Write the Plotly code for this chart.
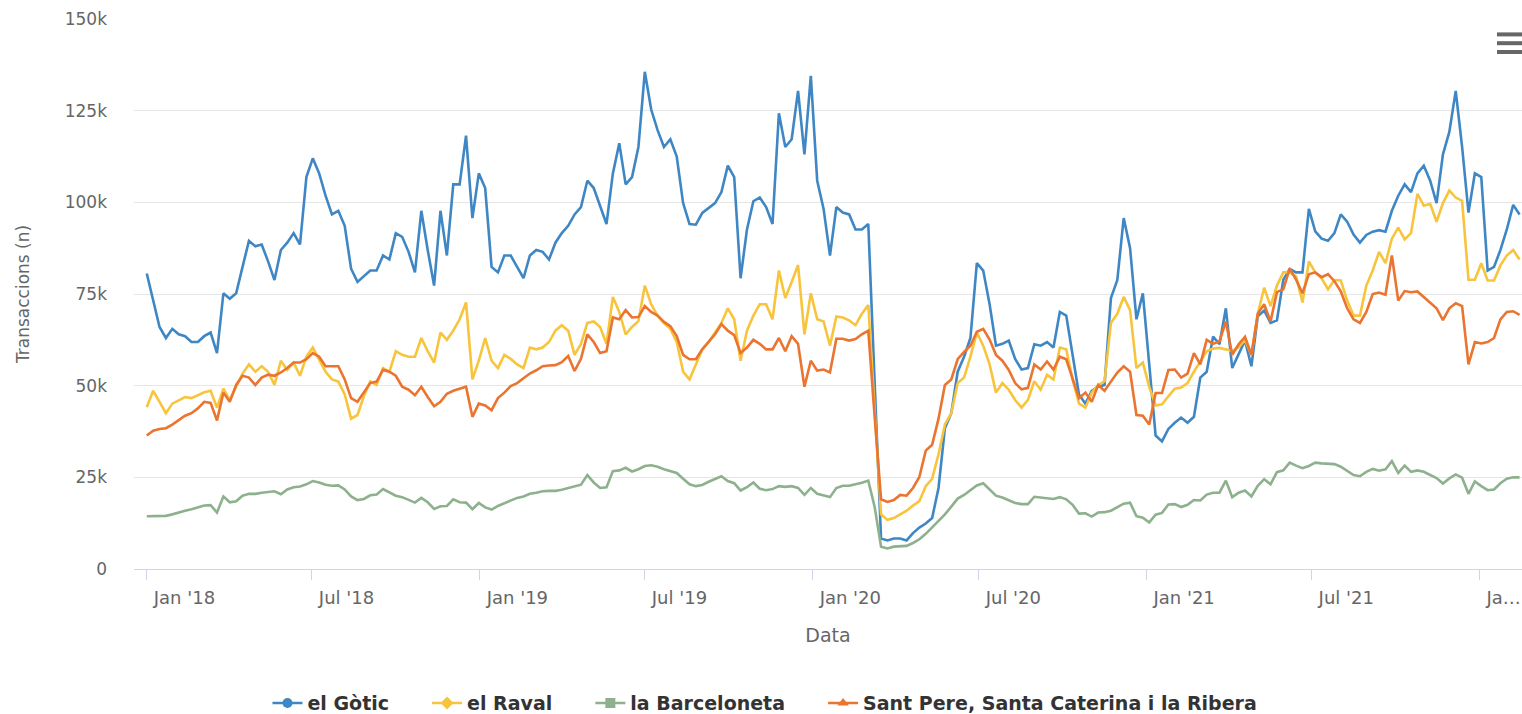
import plotly.graph_objects as go
import pandas as pd

# weekly card transactions per barri (thousands)
weeks = pd.date_range("2018-01-01", periods=216, freq="7D")

gotic = [
    80.6, 73.2, 66.0, 63.0, 65.5, 64.0, 63.5, 61.9, 61.9, 63.5, 64.5, 58.9,
    75.2, 73.7, 75.2, 82.4, 89.5, 88.0, 88.5, 83.9, 78.8, 87.0, 89.0, 91.6,
    88.5, 106.9, 112.0, 107.9, 101.8, 96.7, 97.7, 93.6, 81.9, 78.3, 79.8, 81.4,
    81.4, 85.5, 84.4, 91.6, 90.6, 86.5, 80.9, 97.7, 87.0, 77.3, 97.7, 85.5,
    104.9, 104.9, 118.2, 95.7, 107.9, 103.9, 82.4, 80.9, 85.5, 85.5, 82.4, 79.3,
    85.5, 87.0, 86.5, 84.4, 89.0, 91.6, 93.6, 96.7, 98.7, 105.9, 103.9, 98.7,
    94.1, 107.9, 116.1, 104.9, 106.9, 115.1, 135.6, 125.3, 119.7, 115.1, 117.2, 112.5,
    99.8, 94.1, 93.9, 97.1, 98.4, 99.8, 102.8, 110.0, 106.9, 79.3, 92.6, 100.3,
    101.3, 98.7, 94.1, 124.3, 115.1, 117.2, 130.4, 113.1, 134.5, 105.9, 98.2, 85.5,
    98.7, 97.2, 96.7, 92.6, 92.6, 94.1, 50.7, 8.3, 7.8, 8.3, 8.3, 7.8,
    9.8, 11.3, 12.4, 13.9, 22.1, 38.4, 42.5, 53.8, 57.9, 63.0, 83.4, 81.4,
    72.2, 60.9, 61.4, 62.3, 57.3, 54.4, 54.8, 61.3, 60.9, 61.9, 60.4, 70.1,
    69.1, 57.9, 47.6, 45.1, 48.6, 49.7, 50.2, 73.9, 78.8, 95.7, 87.5, 68.1,
    75.2, 55.8, 36.4, 34.8, 38.2, 39.9, 41.3, 39.9, 41.5, 52.2, 53.8, 63.4,
    61.3, 71.1, 54.8, 58.6, 62.3, 55.3, 68.9, 70.5, 67.1, 67.8, 78.9, 81.8,
    80.9, 80.9, 98.2, 92.1, 90.1, 89.5, 91.6, 96.7, 94.7, 91.2, 89.0, 91.1,
    92.0, 92.4, 92.0, 97.7, 101.8, 104.9, 102.8, 107.9, 110.0, 105.9, 99.8, 113.1,
    119.2, 130.4, 115.1, 97.2, 107.9, 106.9, 81.4, 82.4, 87.0, 92.6, 99.3, 96.7,
]

raval = [
    44.1, 48.6, 45.6, 42.5, 45.1, 46.1, 46.9, 46.6, 47.4, 48.2, 48.6, 44.0,
    49.2, 46.1, 49.7, 53.3, 55.8, 53.8, 55.3, 53.8, 50.2, 56.8, 54.3, 56.3,
    52.7, 57.9, 60.4, 57.3, 53.8, 51.7, 51.1, 47.6, 41.0, 42.0, 47.1, 51.2,
    50.2, 54.8, 53.8, 59.4, 58.4, 57.9, 57.9, 63.0, 59.4, 56.3, 64.5, 62.5,
    65.0, 68.1, 72.7, 51.7, 56.8, 63.0, 56.8, 54.8, 58.4, 57.3, 55.8, 54.8,
    60.4, 59.9, 60.4, 61.9, 65.0, 66.5, 65.0, 58.4, 61.4, 67.1, 67.5, 66.0,
    61.4, 74.2, 70.1, 64.0, 66.0, 67.6, 77.3, 72.2, 69.1, 67.1, 65.5, 61.9,
    53.8, 51.7, 55.8, 59.9, 61.9, 64.5, 67.1, 71.1, 68.1, 56.8, 65.0, 69.1,
    72.2, 72.2, 68.1, 81.4, 73.9, 78.3, 82.9, 64.0, 75.2, 68.1, 67.5, 60.9,
    68.9, 68.6, 67.8, 66.5, 69.6, 72.0, 43.5, 14.9, 13.4, 13.9, 14.9, 15.9,
    17.3, 18.5, 22.6, 24.6, 31.3, 39.4, 42.5, 50.7, 52.2, 57.9, 64.5, 60.9,
    55.8, 48.1, 50.7, 48.9, 46.1, 44.0, 46.1, 51.2, 48.9, 53.0, 51.7, 60.4,
    59.9, 51.7, 45.1, 44.0, 48.1, 50.2, 51.2, 67.1, 69.6, 74.2, 70.6, 54.8,
    56.3, 49.7, 44.6, 44.9, 47.1, 49.2, 49.5, 50.7, 53.8, 56.8, 59.4, 60.1,
    60.3, 59.9, 59.4, 60.5, 62.5, 58.4, 69.6, 76.7, 71.7, 77.3, 80.9, 80.9,
    79.8, 72.7, 83.9, 80.9, 79.3, 76.3, 78.8, 78.7, 73.2, 69.1, 69.1, 77.3,
    81.4, 86.5, 83.4, 90.1, 93.1, 89.9, 91.6, 102.3, 99.1, 99.6, 94.7, 99.8,
    103.2, 101.3, 100.4, 78.9, 78.9, 83.4, 78.7, 78.7, 82.8, 85.5, 87.0, 84.4,
]

barceloneta = [
    14.4, 14.4, 14.4, 14.5, 14.9, 15.5, 15.9, 16.3, 16.9, 17.3, 17.4, 15.4,
    19.8, 18.2, 18.5, 20.0, 20.5, 20.5, 20.8, 20.9, 21.2, 20.4, 21.7, 22.3,
    22.5, 23.1, 24.0, 23.6, 23.0, 22.7, 22.8, 21.7, 19.8, 18.8, 19.1, 20.1,
    20.3, 21.8, 20.9, 20.0, 19.6, 18.8, 18.1, 19.4, 18.2, 16.4, 17.1, 17.2,
    19.0, 18.2, 18.1, 16.3, 18.0, 16.8, 16.2, 17.2, 18.0, 18.8, 19.4, 19.8,
    20.5, 20.8, 21.2, 21.3, 21.3, 21.6, 22.1, 22.4, 23.0, 25.6, 23.6, 22.1,
    22.3, 26.7, 26.9, 27.6, 26.6, 27.2, 28.1, 28.3, 27.9, 27.2, 26.8, 26.2,
    24.6, 23.1, 22.6, 22.9, 23.8, 24.5, 25.3, 24.0, 23.4, 21.4, 22.3, 23.6,
    21.9, 21.5, 21.8, 22.6, 22.4, 22.6, 22.1, 20.2, 22.1, 20.5, 20.0, 19.6,
    22.1, 22.7, 22.7, 23.0, 23.5, 24.1, 16.9, 6.1, 5.6, 6.1, 6.1, 6.3,
    7.1, 8.1, 9.6, 11.3, 13.1, 14.9, 17.0, 19.2, 20.2, 21.5, 22.8, 23.4,
    21.6, 20.0, 19.5, 18.8, 18.0, 17.7, 17.7, 19.7, 19.5, 19.5, 19.1, 19.6,
    19.0, 17.5, 15.1, 15.2, 14.3, 15.4, 15.5, 15.9, 16.9, 17.8, 18.1, 14.4,
    14.0, 12.7, 14.8, 15.3, 17.6, 17.7, 16.9, 17.5, 18.8, 18.7, 20.3, 20.8,
    20.8, 24.1, 19.6, 20.8, 21.4, 19.8, 22.7, 24.5, 23.1, 26.4, 26.9, 29.0,
    28.2, 27.5, 28.1, 29.0, 28.8, 28.8, 28.6, 27.9, 26.7, 25.6, 25.3, 26.5,
    27.3, 26.8, 27.2, 29.4, 26.2, 28.2, 26.5, 26.9, 26.5, 25.6, 24.8, 23.3,
    24.7, 25.8, 24.9, 20.5, 23.9, 22.6, 21.5, 21.7, 23.4, 24.6, 25.0, 25.0,
]

sant_pere = [
    36.4, 37.7, 38.2, 38.4, 39.4, 40.5, 41.8, 42.5, 43.8, 45.6, 45.3, 40.5,
    48.1, 45.6, 50.2, 52.7, 52.2, 50.2, 52.2, 53.0, 52.7, 53.6, 54.8, 56.3,
    56.3, 57.2, 58.9, 57.9, 55.3, 55.3, 55.3, 51.7, 46.6, 45.6, 48.1, 50.7,
    51.1, 54.3, 53.8, 52.7, 49.7, 48.9, 47.4, 49.7, 46.9, 44.4, 45.6, 47.8,
    48.6, 49.2, 49.7, 41.5, 45.1, 44.6, 43.3, 46.6, 48.1, 49.9, 50.7, 52.0,
    53.3, 54.2, 55.3, 55.5, 55.6, 56.4, 58.1, 54.0, 57.3, 64.0, 61.9, 58.9,
    59.4, 68.6, 68.1, 70.6, 68.6, 68.7, 71.7, 70.1, 69.1, 67.4, 66.2, 63.5,
    58.4, 57.2, 57.2, 59.9, 61.9, 64.0, 66.8, 65.0, 63.8, 58.9, 60.4, 62.5,
    61.4, 59.9, 59.9, 63.0, 59.4, 63.5, 61.4, 49.7, 56.8, 54.1, 54.4, 53.6,
    62.8, 62.8, 62.3, 62.7, 64.0, 65.0, 41.5, 19.0, 18.3, 18.8, 20.2, 20.0,
    22.1, 25.1, 32.3, 33.9, 41.0, 50.2, 51.7, 57.2, 59.2, 60.9, 64.7, 65.5,
    62.6, 58.4, 56.8, 54.3, 50.7, 49.0, 49.4, 55.8, 54.4, 56.6, 54.4, 57.9,
    57.2, 51.7, 46.6, 48.1, 45.6, 50.2, 48.6, 51.1, 53.6, 55.3, 53.8, 42.0,
    41.8, 39.4, 48.0, 48.0, 54.3, 54.4, 52.2, 53.3, 58.9, 55.8, 62.5, 61.4,
    62.1, 67.5, 58.4, 61.3, 63.3, 58.4, 69.6, 72.2, 67.5, 75.5, 76.3, 81.9,
    78.9, 75.2, 80.4, 80.9, 79.6, 80.4, 78.5, 75.7, 71.1, 68.1, 67.1, 70.1,
    75.0, 75.4, 74.8, 85.5, 73.2, 75.8, 75.5, 75.7, 74.2, 72.7, 71.1, 67.9,
    71.1, 72.5, 71.7, 55.8, 61.9, 61.5, 61.9, 63.0, 68.1, 70.1, 70.3, 69.3,
]

series_names = ["el Gòtic", "el Raval", "la Barceloneta",
                "Sant Pere, Santa Caterina i la Ribera"]
series_colors = ["#3f87c4", "#f7c43c", "#8db18c", "#ea7430"]
series_symbols = ["circle", "diamond", "square", "triangle-up"]

tick_dates = ["2018-01-01", "2018-07-01", "2019-01-01", "2019-07-01", "2020-01-01",
              "2020-07-01", "2021-01-01", "2021-07-01", "2022-01-01"]
tick_labels = ["Jan '18", "Jul '18", "Jan '19", "Jul '19", "Jan '20",
               "Jul '20", "Jan '21", "Jul '21", "Ja…"]
y_ticks = [0, 25, 50, 75, 100, 125, 150]
y_labels = ["0", "25k", "50k", "75k", "100k", "125k", "150k"]

font = "DejaVu Sans, sans-serif"

fig = go.Figure()
for name, ys, col in zip(series_names, [gotic, raval, barceloneta, sant_pere], series_colors):
    fig.add_trace(go.Scatter(x=weeks, y=ys, mode="lines", name=name,
                             legendgroup=name, showlegend=False,
                             line=dict(color=col, width=2.6)))

# legend entries show line + marker like the original
pad = "\u00a0" * 5
for i, (name, col, sym) in enumerate(zip(series_names, series_colors, series_symbols)):
    label = name if i == len(series_names) - 1 else name + pad
    fig.add_trace(go.Scatter(x=[None], y=[None], mode="lines+markers", name=label,
                             legendgroup=name,
                             line=dict(color=col, width=2.6),
                             marker=dict(color=col, symbol=sym, size=10)))

# export menu icon (top right)
for yy in [0.972, 0.956, 0.940]:
    fig.add_shape(type="line", xref="paper", yref="paper",
                  x0=0.982, x1=1.0, y0=yy, y1=yy,
                  line=dict(color="#666666", width=4))

fig.update_xaxes(
    type="date",
    range=["2017-12-18", "2022-02-16 16:00"],
    tickvals=tick_dates, ticktext=tick_labels,
    ticklabelposition="outside right",
    ticklabelshift=6, ticklabelstandoff=12,
    showgrid=False,
    showline=True, linecolor="#ccd6eb", linewidth=1,
    ticks="outside", ticklen=10, tickcolor="#ccd6eb",
    tickfont=dict(family=font, size=18, color="#666666"),
    title=dict(text="Data", font=dict(family=font, size=19, color="#666666"), standoff=22),
)
fig.update_yaxes(
    range=[0, 150],
    tickvals=y_ticks, ticktext=y_labels,
    showgrid=True, gridcolor="#e6e6e6", gridwidth=1,
    zeroline=False, showline=False,
    ticklabelstandoff=26,
    tickfont=dict(family=font, size=17, color="#666666"),
    title=dict(text="Transaccions (n)", font=dict(family=font, size=17, color="#666666"),
               standoff=30),
)

fig.update_layout(
    width=1522, height=714,
    margin=dict(l=134, r=0, t=19, b=145, autoexpand=False),
    paper_bgcolor="white", plot_bgcolor="white",
    legend=dict(orientation="h", x=0.4546, xanchor="center", y=-0.244, yanchor="middle",
                font=dict(family=font, size=19, color="#333333", weight="bold")),
)

fig.write_html("out.html", config={"displayModeBar": False},
               post_script="document.body.style.margin='0';")
